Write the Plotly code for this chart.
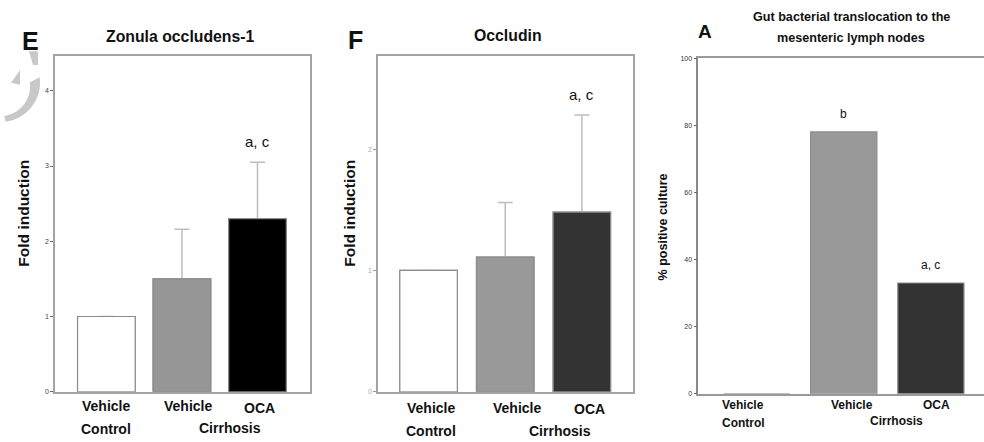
import numpy as np
import plotly.graph_objects as go

# ---------------- data ----------------
groups = ["Vehicle", "Vehicle", "OCA"]
subgroups = ["Control", "Cirrhosis"]

zo1_values = [1.0, 1.50, 2.30]
zo1_err = [None, 0.66, 0.75]
zo1_ticks = [0, 1, 2, 3, 4]

occ_values = [1.0, 1.11, 1.48]
occ_err = [None, 0.45, 0.80]
occ_ticks = [0, 1, 2]

bt_values = [0, 78, 33]
bt_ticks = [0, 20, 40, 60, 80, 100]

zo1_sig = "a, c"
occ_sig = "a, c"
bt_sig = ["", "b", "a, c"]

# ---------------- helpers ----------------
W, H = 984, 442
FONT = "Liberation Sans, Arial, Helvetica, sans-serif"


def PX(px):
    return px / W


def PY(py):
    return 1 - py / H


xs = [0, 1, 2]

fig = go.Figure()


def add_panel(values, errs, colors, width, xa, ya):
    marker = dict(color=colors, line=dict(color="#8c8c8c", width=1.2))
    if errs is not None:
        # lower trace carries the error bars; its lower caps sit inside the bar
        lower = [None if e is None else v * 0.5 for v, e in zip(values, errs)]
        fig.add_trace(go.Bar(
            x=xs, y=values, width=width, xaxis=xa, yaxis=ya, marker=marker,
            error_y=dict(type="data", array=errs, arrayminus=lower, symmetric=False,
                         color="#bdbdbd", thickness=1.5, width=7.5),
            showlegend=False, hoverinfo="skip"))
    # upper trace covers the lower half of the error bars
    fig.add_trace(go.Bar(
        x=xs, y=values, width=width, xaxis=xa, yaxis=ya, marker=marker,
        showlegend=False, hoverinfo="skip"))


add_panel(zo1_values, zo1_err, ["#ffffff", "#969696", "#000000"], 0.763, "x", "y")
add_panel(occ_values, occ_err, ["#ffffff", "#999999", "#333333"], 0.75, "x2", "y2")
add_panel(bt_values, None, ["#ffffff", "#999999", "#333333"], 0.76, "x3", "y3")

box = dict(showline=True, mirror=True, linecolor="#a3a3a3", linewidth=1.6,
           showgrid=False, zeroline=False, fixedrange=True)

fig.update_layout(
    width=W, height=H,
    margin=dict(l=0, r=0, t=0, b=0),
    paper_bgcolor="white", plot_bgcolor="white",
    font=dict(family=FONT, color="#111111"),
    barmode="overlay",
    xaxis=dict(domain=[PX(55), PX(310)], range=[-0.68, 2.695],
               showticklabels=False, ticks="", anchor="y", **box),
    yaxis=dict(domain=[PY(394), PY(53)], range=[0, 4.46], tickvals=zo1_ticks,
               ticks="outside", ticklen=3, tickcolor="#666666", tickwidth=1,
               tickfont=dict(size=7, color="#444444", family=FONT), anchor="x", **box),
    xaxis2=dict(domain=[PX(378), PX(633)], range=[-0.66, 2.667],
                showticklabels=False, ticks="", anchor="y2", **box),
    yaxis2=dict(domain=[PY(394), PY(52.5)], range=[0, 2.77], tickvals=occ_ticks,
                ticks="outside", ticklen=3, tickcolor="#999999", tickwidth=1,
                tickfont=dict(size=7, color="#aaaaaa", family=FONT), anchor="x2", **box),
    xaxis3=dict(domain=[PX(698.3), 1.0], range=[-0.67, 2.61],
                showticklabels=False, ticks="", anchor="y3",
                showline=True, mirror=True, linecolor="#9a9a9a", linewidth=1.6,
                showgrid=False, zeroline=False, fixedrange=True),
    yaxis3=dict(domain=[PY(396), PY(55)], range=[0, 100], tickvals=bt_ticks,
                ticks="outside", ticklen=3, tickcolor="#666666", tickwidth=1,
                tickfont=dict(size=7, color="#333333", family=FONT), anchor="x3",
                showline=True, mirror=False, linecolor="#8a8a8a", linewidth=1.6,
                showgrid=False, zeroline=False, fixedrange=True),
)

ann = []


def txt(text, x, y, size, bold=True, angle=0, color="#111111"):
    ann.append(dict(text=text, x=PX(x), y=PY(y), xref="paper", yref="paper",
                    xanchor="center", yanchor="middle", showarrow=False, textangle=angle,
                    font=dict(size=size, family=FONT, color=color,
                              weight="bold" if bold else "normal")))


# Panel E texts
txt("E", 30, 38, 25)
txt("Zonula occludens-1", 180, 33, 15.8)
txt("Fold induction", 24, 213, 15.5, angle=-90)
txt(groups[0], 106, 408, 14)
txt(groups[1], 188, 408, 14)
txt(groups[2], 259, 410, 14)
txt(subgroups[0], 106, 432, 14)
txt(subgroups[1], 230, 431, 14)
ann.append(dict(text=zo1_sig, x=2, y=zo1_values[2] + zo1_err[2], xref="x", yref="y",
                yanchor="middle", yshift=21, showarrow=False,
                font=dict(size=15, family=FONT, color="#111111")))

# Panel F texts
txt("F", 355, 37, 25)
txt("Occludin", 508, 32, 15.8)
txt("Fold induction", 350, 213, 15.5, angle=-90)
txt(groups[0], 431, 410, 14)
txt(groups[1], 517, 410, 14)
txt(groups[2], 589, 412, 14)
txt(subgroups[0], 431, 434, 14)
txt(subgroups[1], 560, 434, 14)
ann.append(dict(text=occ_sig, x=2, y=occ_values[2] + occ_err[2], xref="x2", yref="y2",
                yanchor="middle", yshift=21, showarrow=False,
                font=dict(size=15, family=FONT, color="#111111")))

# Panel A texts
txt("A", 705, 28, 19)
txt("Gut bacterial translocation to the", 851, 13, 12.6)
txt("mesenteric lymph nodes", 851, 35, 12.6)
txt("% positive culture", 663, 227, 12.5, angle=-90)
txt(groups[0], 743, 407, 12)
txt(subgroups[0], 743, 426, 12)
txt(groups[1], 852, 407, 12)
txt(groups[2], 936, 407, 12)
txt(subgroups[1], 896, 424, 12)
for i, s in enumerate(bt_sig):
    if s:
        ann.append(dict(text=s, x=i, y=bt_values[i], xref="x3", yref="y3",
                        yanchor="middle", yshift=18, showarrow=False,
                        font=dict(size=12, family=FONT, color="#111111")))

fig.update_layout(annotations=ann)


# grey decorative fragment at left edge (artifact of neighbouring panel)
def ppath(points):
    return "M " + " L ".join(f"{PX(x):.5f},{PY(y):.5f}" for x, y in points) + " Z"


th = np.linspace(np.radians(-8), np.radians(82), 30)
outer = [(0 + 40 * np.cos(t), 80 + 40 * np.sin(t)) for t in th]
inner = [(0 + 30 * np.cos(t), 84 + 30 * np.sin(t)) for t in th[::-1]]
shapes = [
    dict(type="path", xref="paper", yref="paper", path=ppath(outer + inner),
         fillcolor="#c8c8c8", line=dict(width=0), layer="below"),
    dict(type="path", xref="paper", yref="paper",
         path=ppath([(29, 48), (38, 48), (38, 62), (33, 62)]),
         fillcolor="#c8c8c8", line=dict(width=0), layer="below"),
    dict(type="path", xref="paper", yref="paper",
         path=ppath([(11, 80), (20, 67), (20, 82)]),
         fillcolor="#c8c8c8", line=dict(width=0), layer="below"),
]
fig.update_layout(shapes=shapes)

fig.write_html("out.html")
